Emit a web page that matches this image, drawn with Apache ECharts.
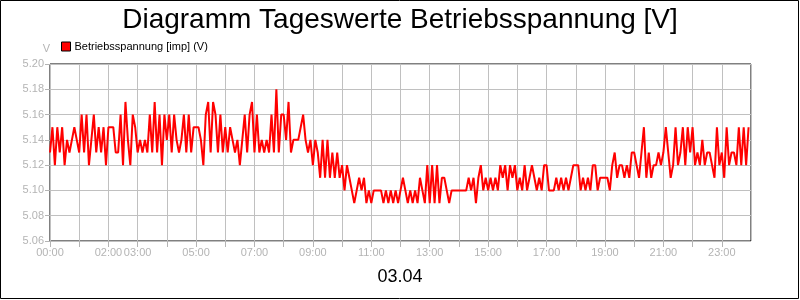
<!DOCTYPE html>
<html><head><meta charset="utf-8">
<script src="https://cdn.jsdelivr.net/npm/echarts@6/dist/echarts.min.js"></script>
<style>html,body{margin:0;padding:0;background:#fff}#c{width:800px;height:300px}</style>
</head><body><div id="c"></div>
<script>
const titleText = "Diagramm Tageswerte Betriebsspannung [V]";
const dateText = "03.04";
const seriesName = "Betriebsspannung [imp] (V)";
const xLabelHours = [0, 2, 3, 5, 7, 9, 11, 13, 15, 17, 19, 21, 23];
const yTicks = [5.06, 5.08, 5.10, 5.12, 5.14, 5.16, 5.18, 5.20];
// 5-minute values, 12 per hour
const h00 = [5.13,5.15,5.12,5.15,5.13,5.15,5.12,5.14,5.13,5.14,5.15,5.14];
const h01 = [5.13,5.16,5.13,5.16,5.12,5.14,5.16,5.13,5.15,5.13,5.15,5.12];
const h02 = [5.15,5.15,5.15,5.13,5.13,5.16,5.12,5.17,5.14,5.12,5.16,5.15];
const h03 = [5.13,5.14,5.13,5.14,5.13,5.16,5.13,5.17,5.13,5.16,5.12,5.16];
const h04 = [5.14,5.16,5.13,5.16,5.14,5.13,5.14,5.16,5.13,5.16,5.13,5.15];
const h05 = [5.15,5.15,5.14,5.12,5.16,5.17,5.13,5.17,5.16,5.13,5.16,5.13];
const h06 = [5.15,5.13,5.15,5.14,5.13,5.14,5.12,5.14,5.16,5.13,5.16,5.17];
const h07 = [5.13,5.16,5.13,5.14,5.13,5.14,5.13,5.16,5.13,5.18,5.13,5.16];
const h08 = [5.16,5.14,5.17,5.13,5.14,5.14,5.14,5.15,5.16,5.14,5.13,5.14];
const h09 = [5.12,5.14,5.13,5.11,5.14,5.11,5.14,5.11,5.13,5.11,5.13,5.11];
const h10 = [5.12,5.10,5.12,5.11,5.10,5.09,5.10,5.11,5.10,5.11,5.09,5.10];
const h11 = [5.09,5.10,5.10,5.10,5.10,5.09,5.10,5.09,5.10,5.09,5.10,5.09];
const h12 = [5.10,5.11,5.10,5.09,5.10,5.09,5.10,5.09,5.11,5.10,5.09,5.12];
const h13 = [5.09,5.12,5.09,5.12,5.09,5.11,5.11,5.10,5.09,5.10,5.10,5.10];
const h14 = [5.10,5.10,5.10,5.10,5.11,5.10,5.11,5.09,5.11,5.12,5.10,5.11];
const h15 = [5.10,5.11,5.10,5.11,5.10,5.12,5.11,5.12,5.10,5.12,5.11,5.12];
const h16 = [5.10,5.11,5.10,5.12,5.10,5.11,5.12,5.11,5.10,5.11,5.10,5.12];
const h17 = [5.12,5.10,5.10,5.10,5.11,5.10,5.11,5.10,5.11,5.10,5.11,5.12];
const h18 = [5.12,5.12,5.10,5.11,5.10,5.11,5.10,5.12,5.12,5.10,5.11,5.11];
const h19 = [5.11,5.11,5.10,5.12,5.13,5.11,5.12,5.12,5.11,5.12,5.11,5.13];
const h20 = [5.13,5.12,5.11,5.13,5.15,5.11,5.13,5.11,5.12,5.12,5.13,5.12];
const h21 = [5.13,5.15,5.13,5.11,5.12,5.15,5.12,5.13,5.15,5.12,5.15,5.13];
const h22 = [5.15,5.12,5.13,5.12,5.14,5.12,5.13,5.13,5.12,5.11,5.15,5.12];
const h23 = [5.13,5.11,5.15,5.12,5.13,5.13,5.12,5.15,5.12,5.15,5.12,5.15];

const hours = [h00,h01,h02,h03,h04,h05,h06,h07,h08,h09,h10,h11,h12,h13,h14,h15,h16,h17,h18,h19,h20,h21,h22,h23];
const data = [];
hours.forEach((arr, h) => arr.forEach((v, i) => data.push([h + i / 12, v])));

const gray = '#b4b4b4';
const chart = echarts.init(document.getElementById('c'), null, {renderer: 'canvas'});
chart.setOption({
  animation: false,
  backgroundColor: '#fff',
  textStyle: {fontFamily: 'Liberation Sans, Arial, sans-serif'},
  title: [
    {text: titleText, left: 'center', top: 1, textStyle: {fontSize: 28, fontWeight: 'normal', color: '#000', fontFamily: 'Liberation Sans'}},
    {text: dateText, left: 'center', top: 263, textStyle: {fontSize: 18, fontWeight: 'normal', color: '#000', fontFamily: 'Liberation Sans'}}
  ],
  legend: {
    left: 56, top: 36, itemWidth: 9, itemHeight: 9, itemGap: 4,
    icon: 'rect',
    data: [{name: seriesName, itemStyle: {color: '#ff0000', borderColor: '#000', borderWidth: 1}}],
    textStyle: {fontSize: 11, color: '#000', padding: [0, 0, 0, -1], fontFamily: 'Liberation Sans'}
  },
  grid: {left: 50, right: 49, top: 64, bottom: 59, show: true, borderColor: '#000', borderWidth: 1, backgroundColor: 'transparent'},
  xAxis: {
    type: 'value', min: 0, max: 24, interval: 1,
    axisLine: {show: false},
    axisTick: {show: true, length: 6, lineStyle: {color: gray}},
    splitLine: {show: true, lineStyle: {color: '#c0c0c0', width: 1}},
    axisLabel: {
      color: gray, fontSize: 11, margin: 6, fontFamily: 'Liberation Sans',
      showMaxLabel: false,
      formatter: v => xLabelHours.indexOf(Math.round(v)) >= 0 ? String(Math.round(v)).padStart(2, '0') + ':00' : ''
    }
  },
  yAxis: {
    type: 'value', min: yTicks[0], max: yTicks[yTicks.length - 1], interval: 0.02,
    name: 'V', nameLocation: 'end', nameGap: 10,
    nameTextStyle: {color: gray, fontSize: 11, align: 'right', padding: [0, 0, 0, 0], fontFamily: 'Liberation Sans'},
    axisLine: {show: false},
    axisTick: {show: true, length: 5, lineStyle: {color: gray}},
    splitLine: {show: true, lineStyle: {color: '#c0c0c0', width: 1}},
    axisLabel: {color: gray, fontSize: 11, margin: 6, fontFamily: 'Liberation Sans', formatter: v => v.toFixed(2)}
  },
  series: [{
    name: seriesName, type: 'line', data: data, showSymbol: false,
    lineStyle: {color: '#ff0000', width: 2}, itemStyle: {color: '#ff0000'}
  }],
  graphic: [{type: 'rect', shape: {x: 0.5, y: 0.5, width: 798, height: 298}, style: {fill: 'none', stroke: '#000', lineWidth: 1}, z: 100}]
});
</script></body></html>
